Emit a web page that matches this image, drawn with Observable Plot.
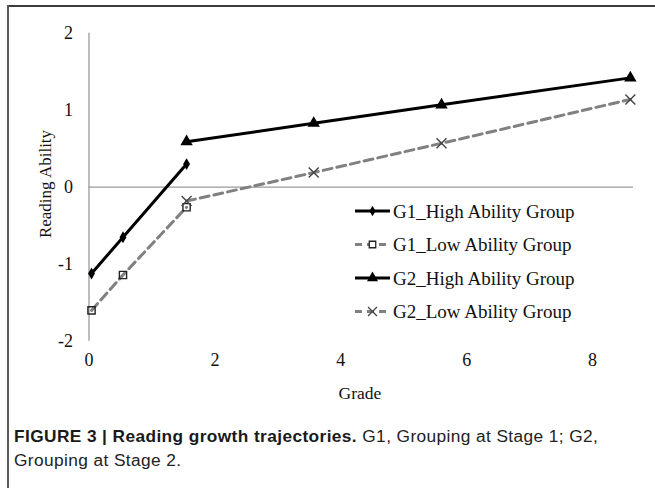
<!DOCTYPE html>
<html>
<head>
<meta charset="utf-8">
<script src="https://cdn.jsdelivr.net/npm/d3@7"></script>
<script src="https://cdn.jsdelivr.net/npm/@observablehq/plot@0.6"></script>
<style>
  html, body { margin: 0; padding: 0; background: #fff; }
  #wrap { position: relative; width: 655px; height: 488px; overflow: hidden; background: #fff; }
  #frameTop { position: absolute; left: 7px; top: 5px; width: 648px; height: 2px; background: #3c3c3c; }
  #frameLeft { position: absolute; left: 7px; top: 5px; width: 2px; height: 483px; background: #5a5a5a; }
  #chart { position: absolute; left: 0; top: 0; }
  #caption { position: absolute; left: 14px; top: 424px; width: 636px; white-space: nowrap; font-family: "Liberation Sans", Arial, sans-serif; font-size: 17.3px; letter-spacing: 0.4px; line-height: 24px; color: #222; }
  #caption b { font-weight: bold; color: #1a1a1a; }
</style>
</head>
<body>
<div id="wrap">
  <div id="frameTop"></div>
  <div id="frameLeft"></div>
  <div id="chart"></div>
  <div id="caption"><b>FIGURE 3 | Reading growth trajectories.</b><span> G1, Grouping at Stage 1; G2,</span><br><span>Grouping at Stage 2.</span></div>
</div>
<script>
// ---- data ----
const seriesNames = ["G1_High Ability Group", "G1_Low Ability Group", "G2_High Ability Group", "G2_Low Ability Group"];
const gradesG1 = [0.04, 0.54, 1.55];
const g1High = [-1.12, -0.65, 0.30];
const g1Low = [-1.60, -1.14, -0.26];
const gradesG2 = [1.55, 3.57, 5.60, 8.60];
const g2High = [0.59, 0.83, 1.07, 1.42];
const g2Low = [-0.18, 0.19, 0.57, 1.14];
const xTicks = [0, 2, 4, 6, 8];
const yTicks = [-2, -1, 0, 1, 2];
const xLabel = "Grade";
const yLabel = "Reading Ability";

// ---- build tidy rows ----
const rows = [];
gradesG1.forEach((g, i) => rows.push({series: seriesNames[0], grade: g, value: g1High[i]}));
gradesG1.forEach((g, i) => rows.push({series: seriesNames[1], grade: g, value: g1Low[i]}));
gradesG2.forEach((g, i) => rows.push({series: seriesNames[2], grade: g, value: g2High[i]}));
gradesG2.forEach((g, i) => rows.push({series: seriesNames[3], grade: g, value: g2Low[i]}));

const styles = {
  [seriesNames[0]]: {stroke: "#000", dash: null, symbol: "diamond", r: 3.6, fill: "#000", symStroke: "none"},
  [seriesNames[1]]: {stroke: "#808080", dash: "9,5", symbol: "square2", r: 4.6, fill: "none", symStroke: "#222"},
  [seriesNames[2]]: {stroke: "#000", dash: null, symbol: "triangle", r: 4.6, fill: "#000", symStroke: "none"},
  [seriesNames[3]]: {stroke: "#808080", dash: "9,5", symbol: "times", r: 4.6, fill: "none", symStroke: "#444"}
};

const W = 655, H = 410;
const mL = 88.5, mR = 22, mT = 32.7, mB = H - 340.7;
const serif = "'Liberation Serif', 'Times New Roman', serif";

const marks = [
  Plot.ruleY([0], {stroke: "#9a9a9a", strokeWidth: 1.3}),
  Plot.ruleX([0], {y1: -2, y2: 2, stroke: "#9a9a9a", strokeWidth: 1.3}),
  Plot.axisX({ticks: xTicks, tickSize: 0, tickPadding: 12, tickFormat: d => String(d), label: null}),
  Plot.axisY({ticks: yTicks, tickSize: 0, tickPadding: 16, tickFormat: d => String(d), label: null})
];
for (const name of seriesNames) {
  const s = styles[name];
  const data = rows.filter(d => d.series === name);
  marks.push(Plot.line(data, {x: "grade", y: "value", stroke: s.stroke, strokeWidth: 3, strokeDasharray: s.dash}));
}
for (const name of seriesNames) {
  const s = styles[name];
  const data = rows.filter(d => d.series === name);
  marks.push(Plot.dot(data, {x: "grade", y: "value", symbol: () => s.symbol, r: s.r,
    fill: s.fill, stroke: s.symStroke, strokeWidth: 1.4}));
}

const chart = Plot.plot({
  width: W, height: H,
  marginLeft: mL, marginRight: mR, marginTop: mT, marginBottom: mB,
  x: {domain: [0, 8.65], axis: null},
  y: {domain: [-2, 2], axis: null},
  symbol: {type: "identity"},
  style: {fontFamily: serif, fontSize: "18px", color: "#111", background: "transparent", overflow: "visible"},
  marks
});
document.getElementById("chart").appendChild(chart);

// ---- axis titles and legend ----
const svg = d3.select(chart);
svg.append("text")
  .attr("x", 360).attr("y", 399)
  .attr("text-anchor", "middle")
  .attr("font-family", serif).attr("font-size", 17.5).attr("fill", "#111")
  .text(xLabel);
svg.append("text")
  .attr("transform", "translate(45,184) rotate(-90)")
  .attr("text-anchor", "middle").attr("dominant-baseline", "central")
  .attr("font-family", serif).attr("font-size", 17).attr("fill", "#111")
  .text(yLabel);

const symMap = {diamond: d3.symbolDiamond, square2: d3.symbolSquare2, triangle: d3.symbolTriangle, times: d3.symbolTimes};
const leg = svg.append("g");
const legY = [211, 244.5, 278, 311.5];
seriesNames.forEach((name, i) => {
  const s = styles[name];
  const y = legY[i];
  const g = leg.append("g");
  g.append("line").attr("x1", 355).attr("x2", 390).attr("y1", y).attr("y2", y)
    .attr("stroke", s.stroke).attr("stroke-width", 3).attr("stroke-dasharray", s.dash ? "7,5" : null);
  g.append("path").attr("transform", `translate(372.5,${y})`)
    .attr("d", d3.symbol(symMap[s.symbol], Math.PI * s.r * s.r * 0.8)())
    .attr("fill", s.fill === "none" ? "#fff" : s.fill).attr("stroke", s.symStroke).attr("stroke-width", 1.3);
  g.append("text").attr("x", 393).attr("y", y)
    .attr("text-anchor", "start")
    .attr("dominant-baseline", "central")
    .attr("font-family", serif).attr("font-size", 19).attr("fill", "#111")
    .text(name);
});
</script>
</body>
</html>
